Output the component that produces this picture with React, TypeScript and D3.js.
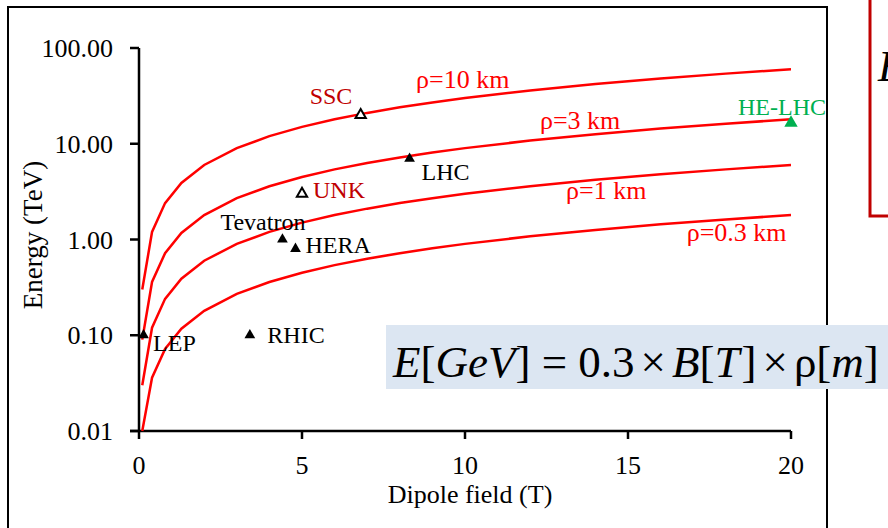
import { line, scaleLinear, scaleLog, symbol, symbolTriangle } from "d3";

const WIDTH = 888;
const HEIGHT = 528;
const FONT = "'Liberation Serif', 'Times New Roman', 'DejaVu Serif', serif";

// dipole field samples (T) and beam energy (TeV) for each bending radius
const FIELD = [0.1, 0.4, 0.8, 1.3, 2, 3, 4, 5, 6, 7, 8, 9, 10, 12, 14, 16, 18, 20];
const RHO_10 = [0.3, 1.2, 2.4, 3.9, 6, 9, 12, 15, 18, 21, 24, 27, 30, 36, 42, 48, 54, 60];
const RHO_3 = [0.09, 0.36, 0.72, 1.17, 1.8, 2.7, 3.6, 4.5, 5.4, 6.3, 7.2, 8.1, 9, 10.8, 12.6, 14.4, 16.2, 18];
const RHO_1 = [0.03, 0.12, 0.24, 0.39, 0.6, 0.9, 1.2, 1.5, 1.8, 2.1, 2.4, 2.7, 3, 3.6, 4.2, 4.8, 5.4, 6];
const RHO_03 = [0.01, 0.036, 0.072, 0.117, 0.18, 0.27, 0.36, 0.45, 0.54, 0.63, 0.72, 0.81, 0.9, 1.08, 1.26, 1.44, 1.62, 1.8];

const CURVE_NAMES = ["ρ=10 km", "ρ=3 km", "ρ=1 km", "ρ=0.3 km"];
const CURVE_LABEL_B = [8.5, 12.3, 13.1, 16.8];
const CURVE_LABEL_E = [37.8, 14.4, 2.68, 0.976];

const MACHINES = ["LEP", "RHIC", "Tevatron", "HERA", "UNK", "SSC", "LHC", "HE-LHC"];
const MACHINE_B = [0.14, 3.4, 4.4, 4.8, 5.0, 6.8, 8.3, 20];
const MACHINE_E = [0.1, 0.1, 1.0, 0.8, 3.0, 20, 7, 16.5];
const MACHINE_OPEN = [false, false, false, false, true, true, false, false];

const X_TICKS = [0, 5, 10, 15, 20];
const Y_TICKS = [0.01, 0.1, 1, 10, 100];

const LABEL_OFFSET: Record<string, [number, number]> = {
  LEP: [9.5, 16],
  RHIC: [17.5, 7.5],
  Tevatron: [-62, -9.5],
  HERA: [10, 4],
  UNK: [11, 4],
  SSC: [-51, -11],
  LHC: [12, 21],
  "HE-LHC": [-53, -7.5],
};

const labelColor = (name: string) =>
  name === "SSC" || name === "UNK" ? "#C00000" : name === "HE-LHC" ? "#00B050" : "#000";

export default function App() {
  const x = scaleLinear().domain([0, 20]).range([139, 791]);
  const y = scaleLog().domain([0.01, 100]).range([431, 48]);

  const curves = [RHO_10, RHO_3, RHO_1, RHO_03].map((values) =>
    line<number>()
      .x((_, i) => x(FIELD[i]))
      .y((d) => y(d))(values)
  );

  const filledTri = symbol(symbolTriangle, 50)();
  const openTri = symbol(symbolTriangle, 46)();
  const bigTri = symbol(symbolTriangle, 78)();

  return (
    <svg
      width={WIDTH}
      height={HEIGHT}
      viewBox={`0 0 ${WIDTH} ${HEIGHT}`}
      style={{ position: "absolute", left: 0, top: 0, background: "#fff", fontFamily: FONT }}
    >
      <rect x={8} y={7} width={819} height={600} fill="none" stroke="#000" strokeWidth={2} />

      {/* axes */}
      <g stroke="#000" strokeWidth={2.5} fill="none">
        <line x1={x(0)} x2={x(0)} y1={y(100)} y2={y(0.01)} />
        <line x1={x(0) - 9} x2={x(20)} y1={y(0.01)} y2={y(0.01)} />
        {Y_TICKS.map((t) => (
          <line key={t} x1={x(0) - 9} x2={x(0)} y1={y(t)} y2={y(t)} />
        ))}
        {X_TICKS.map((t) => (
          <line key={t} x1={x(t)} x2={x(t)} y1={y(0.01)} y2={y(0.01) + 8} />
        ))}
      </g>
      {Y_TICKS.map((t) => (
        <text key={t} x={113} y={y(t)} dy="0.35em" textAnchor="end" fontSize={26}>
          {t.toFixed(2)}
        </text>
      ))}
      {X_TICKS.map((t) => (
        <text key={t} x={x(t)} y={474} textAnchor="middle" fontSize={26}>
          {t}
        </text>
      ))}
      <text x={470} y={503} textAnchor="middle" fontSize={26}>
        Dipole field (T)
      </text>
      <text transform="translate(42,235) rotate(-90)" textAnchor="middle" fontSize={27}>
        Energy (TeV)
      </text>

      {/* bending radius curves */}
      {curves.map((d, i) => (
        <path key={CURVE_NAMES[i]} d={d ?? ""} fill="none" stroke="#FF0000" strokeWidth={2.5} />
      ))}
      {CURVE_NAMES.map((name, i) => (
        <text
          key={name}
          x={x(CURVE_LABEL_B[i])}
          y={y(CURVE_LABEL_E[i])}
          fill="#FF0000"
          fontSize={26}
        >
          {name}
        </text>
      ))}

      {/* machines */}
      {MACHINES.map((name, i) => {
        const cx = x(MACHINE_B[i]);
        const cy = y(MACHINE_E[i]);
        const [dx, dy] = LABEL_OFFSET[name];
        const isGreen = name === "HE-LHC";
        return (
          <g key={name}>
            <path
              d={(MACHINE_OPEN[i] ? openTri : isGreen ? bigTri : filledTri) ?? ""}
              transform={`translate(${cx},${cy})`}
              fill={MACHINE_OPEN[i] ? "#fff" : isGreen ? "#00B050" : "#000"}
              stroke={MACHINE_OPEN[i] ? "#000" : "none"}
              strokeWidth={2}
            />
            <text x={cx + dx} y={cy + dy} fontSize={24} fill={labelColor(name)}>
              {name}
            </text>
          </g>
        );
      })}

      {/* formula */}
      <rect x={386} y={325} width={510} height={64} fill="#DCE6F2" />
      <text x={393} y={377} fontSize={45} fill="#000">
        <tspan fontStyle="italic">E</tspan>
        <tspan>[</tspan>
        <tspan fontStyle="italic">GeV</tspan>
        <tspan>] = 0.3</tspan>
        <tspan dx={6}>×</tspan>
        <tspan dx={6} fontStyle="italic">B</tspan>
        <tspan>[</tspan>
        <tspan fontStyle="italic">T</tspan>
        <tspan dx={2}>]</tspan>
        <tspan dx={6}>×</tspan>
        <tspan dx={6}>ρ[</tspan>
        <tspan fontStyle="italic">m</tspan>
        <tspan>]</tspan>
      </text>

      {/* neighbouring box, cut by the frame */}
      <rect x={870} y={-10} width={40} height={226} fill="#fff" stroke="#C00000" strokeWidth={3} />
      <text x={878} y={81} fontSize={44} fontStyle="italic" fill="#000">
        E
      </text>
    </svg>
  );
}
